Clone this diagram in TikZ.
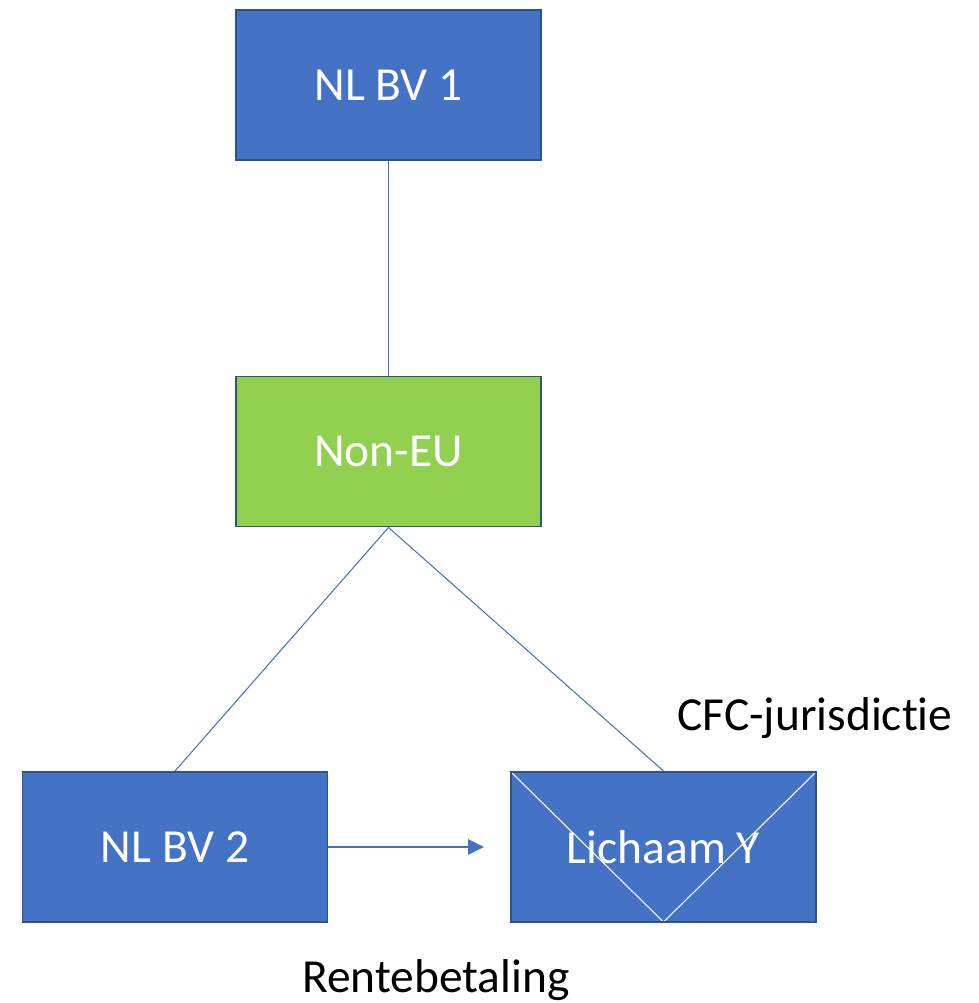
\documentclass[tikz,border=0pt]{standalone}
\usepackage{fontspec}
\setmainfont[Ligatures={NoCommon,NoContextual,NoRare}]{Carlito}
\usetikzlibrary{arrows.meta}
\definecolor{boxblue}{HTML}{4472C4}
\definecolor{boxedge}{HTML}{2F528F}
\definecolor{boxgreen}{HTML}{92D050}
\begin{document}
\begin{tikzpicture}

    \tikzset{
      entity/.style={
        draw=boxedge,
        line width=1.1pt,
        fill=boxblue,
        text=white,
        minimum width=6.1cm,
        minimum height=3cm,
        inner sep=0pt,
        font=\fontsize{27}{31}\selectfont,
      },
      link/.style={color=boxblue, line width=0.6pt},
      caption/.style={font=\fontsize{27}{31}\selectfont, inner sep=0pt},
    }
    \useasboundingbox (0,0) rectangle (19.56,-20.06);
	\node[entity] (bv1) at (7.77,-1.7) {NL BV 1};
	\node[entity, fill=boxgreen] (noneu) at (7.77,-9.03) {Non-EU};
	\node[entity] (bv2) at (3.5,-16.94) {NL BV 2};
	\node[entity, path picture={
	  \draw[white, line width=0.6pt] (path picture bounding box.north west)
	    -- (path picture bounding box.south)
	    -- (path picture bounding box.north east);}] (lichaam) at (13.27,-16.94) {Lichaam Y};
	\node[caption] (cfc) at (16.3,-14.36) {CFC-jurisdic\kern0pt tie};
	\node[caption] (rente) at (8.72,-19.6) {Rentebetaling};
	\draw[link] (bv1.south)--(noneu.north);
	\draw[link] (noneu.south)--(bv2.north);
	\draw[link] (noneu.south)--(lichaam.north);
	\draw[link, line width=1.5pt, shorten >=0.52cm, -{Triangle[length=9pt,width=8.5pt]}] (bv2.east)--(lichaam.west);

\end{tikzpicture}
\end{document}
